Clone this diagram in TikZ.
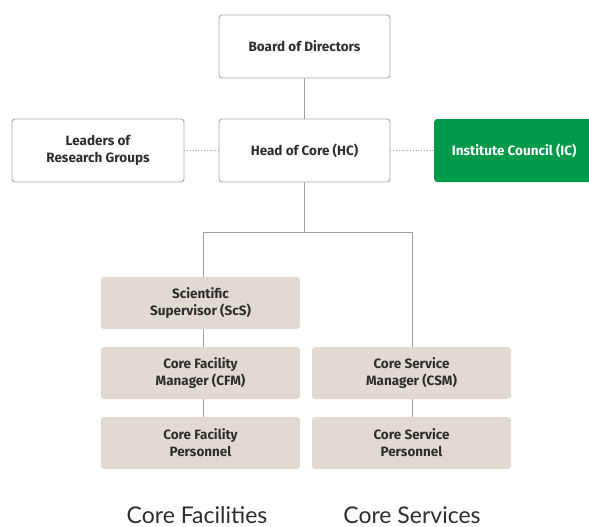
\documentclass[tikz,border=0pt]{standalone}
\usepackage{fontspec}
\setmainfont{Fira Sans}
\newfontfamily\labelfont{Lato}
\definecolor{boxline}{HTML}{A8A8A8}
\definecolor{beige}{HTML}{E0DAD3}
\definecolor{icgreen}{HTML}{009A4A}
\definecolor{txt}{HTML}{2E2E2E}
\definecolor{conn}{HTML}{A0A0A0}
\begin{document}
\begin{tikzpicture}[x=1pt,y=-1pt,
  boxtext/.style={font=\bfseries\fontsize{13.5}{17}\selectfont},
  wbox/.style={draw=boxline,line width=0.9pt,fill=white,rounded corners=3pt,minimum width=171pt,minimum height=63pt,inner sep=0pt,align=center,text=txt,boxtext},
  gbox/.style={fill=beige,rounded corners=3pt,minimum width=199pt,minimum height=52pt,inner sep=0pt,align=center,text=txt,boxtext},
  conline/.style={draw=conn,line width=1pt},
  dotline/.style={draw=conn,line width=0.8pt,dotted},
  grouplabel/.style={text=txt,font=\labelfont\fontsize{23}{26}\selectfont}]
\useasboundingbox (0,0) rectangle (589,527);
\node[wbox] (board) at (304.5,46.5) {Board of Directors};
\node[wbox] (head) at (304.5,150.5) {Head of Core (HC)};
\node[wbox,minimum width=172pt] (leaders) at (98,150.5) {Leaders of\\Research Groups};
\node[fill=icgreen,rounded corners=3pt,minimum width=160pt,minimum height=63pt,inner sep=0pt,text=white,boxtext,anchor=west] (ic) at (434,150.5) {Institute Council (IC)};
\node[gbox] (scs) at (200.5,303) {Scientific\\Supervisor (ScS)};
\node[gbox] (cfm) at (200.5,373) {Core Facility\\Manager (CFM)};
\node[gbox] (cfp) at (200.5,443) {Core Facility\\Personnel};
\node[gbox] (csm) at (411.5,373) {Core Service\\Manager (CSM)};
\node[gbox] (csp) at (411.5,443) {Core Service\\Personnel};
\node[grouplabel] (lfac) at (197,515) {Core Facilities};
\node[grouplabel] (lser) at (412,515) {Core Services};
\coordinate (bus) at (304.5,232);
\coordinate (busl) at (203.5,232);
\coordinate (busr) at (412.5,232);
\draw[conline] (board.south) -- (head.north);
\draw[conline] (head.south) -- (bus);
\draw[conline] (busl) -- (busr);
\draw[conline] (busl) -- (busl |- scs.north);
\draw[conline] (busr) -- (busr |- csm.north);
\draw[conline] (scs.south -| busl) -- (cfm.north -| busl);
\draw[conline] (cfm.south -| busl) -- (cfp.north -| busl);
\draw[conline] (csm.south -| busr) -- (csp.north -| busr);
\draw[dotline] (leaders.east) -- (head.west);
\draw[dotline] (head.east) -- (ic.west);
\end{tikzpicture}
\end{document}
